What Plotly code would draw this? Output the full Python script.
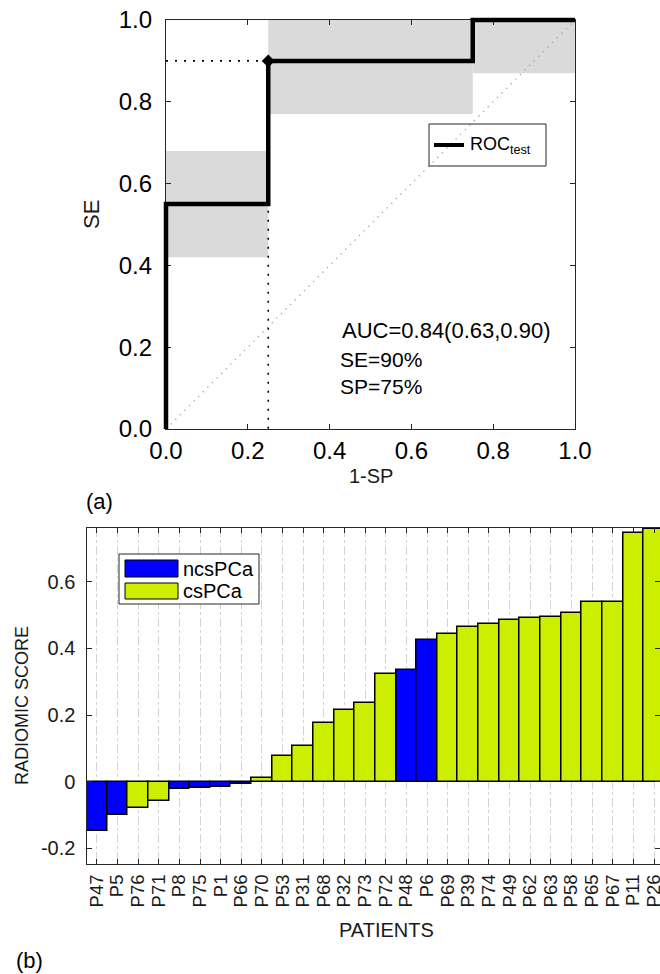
import plotly.graph_objects as go

W, H = 660, 974
FONT = "Liberation Sans, Arial, Helvetica, sans-serif"
AXIS_COLOR = "#262626"

# ---------------- ROC curve (test set) ----------------
roc_fpr = [0.0, 0.0, 0.25, 0.25, 0.75, 0.75, 1.0]
roc_tpr = [0.0, 0.55, 0.55, 0.90, 0.90, 1.0, 1.0]
# confidence band of each step: x-span and SE interval
ci_x0 = [0.0, 0.25, 0.75]
ci_x1 = [0.25, 0.75, 1.0]
ci_lo = [0.42, 0.77, 0.87]
ci_hi = [0.68, 1.0, 1.0]
# chosen operating point
op_fpr = 0.25
op_tpr = 0.90
roc_ticks = [0.0, 0.2, 0.4, 0.6, 0.8, 1.0]
auc_text = "AUC=0.84(0.63,0.90)"
se_text = "SE=90%"
sp_text = "SP=75%"

# ---------------- radiomic score per patient ----------------
patients = ["P47", "P5", "P76", "P71", "P8", "P75", "P1", "P66", "P70", "P53",
            "P31", "P68", "P32", "P73", "P72", "P48", "P6", "P69", "P39", "P74",
            "P49", "P62", "P63", "P58", "P65", "P67", "P11", "P26"]
scores = [-0.148, -0.100, -0.078, -0.057, -0.023, -0.018, -0.017, -0.008, 0.010, 0.077,
          0.108, 0.176, 0.215, 0.235, 0.323, 0.335, 0.425, 0.444, 0.465, 0.472,
          0.486, 0.492, 0.494, 0.507, 0.538, 0.540, 0.745, 0.757]
classes = ["ncsPCa", "ncsPCa", "csPCa", "csPCa", "ncsPCa", "ncsPCa", "ncsPCa", "ncsPCa",
           "csPCa", "csPCa", "csPCa", "csPCa", "csPCa", "csPCa", "csPCa", "ncsPCa",
           "ncsPCa", "csPCa", "csPCa", "csPCa", "csPCa", "csPCa", "csPCa", "csPCa",
           "csPCa", "csPCa", "csPCa", "csPCa"]
class_names = ["ncsPCa", "csPCa"]
class_colors = {"ncsPCa": "#0000FF", "csPCa": "#CCEE00"}
score_ticks = [-0.2, 0.0, 0.2, 0.4, 0.6]
score_ticktext = ["-0.2", "0", "0.2", "0.4", "0.6"]


def px(x, y):
    """pixel position (from top-left) -> paper coordinates"""
    return x / W, 1 - y / H


# panel frames in pixels
A_L, A_R, A_T, A_B = 166, 575, 20, 429
B_L, B_R, B_T, B_B = 86.5, 660, 528, 864
PAD = 5  # extra room so the thick ROC stroke is not cut at the frame

fig = go.Figure()

# confidence bands
for x0, x1, lo, hi in zip(ci_x0, ci_x1, ci_lo, ci_hi):
    fig.add_trace(go.Scatter(
        x=[x0, x1, x1, x0, x0], y=[lo, lo, hi, hi, lo],
        fill="toself", fillcolor="#DADADA", mode="none",
        xaxis="x", yaxis="y", showlegend=False, hoverinfo="skip"))

# chance diagonal
fig.add_trace(go.Scatter(
    x=[roc_ticks[0], roc_ticks[-1]], y=[roc_ticks[0], roc_ticks[-1]], mode="lines",
    line=dict(color="#A8A8A8", width=1.2, dash="1.5px,5px"),
    xaxis="x", yaxis="y", showlegend=False, hoverinfo="skip"))

# operating point guides
fig.add_trace(go.Scatter(
    x=[0.0, op_fpr, op_fpr], y=[op_tpr, op_tpr, 0.0], mode="lines",
    line=dict(color="black", width=1.6, dash="2px,7px"),
    xaxis="x", yaxis="y", showlegend=False, hoverinfo="skip"))

# ROC curve on an overlay axis pair with identical scale but a wider clip box
fig.add_trace(go.Scatter(
    x=roc_fpr, y=roc_tpr, mode="lines",
    line=dict(color="black", width=4.5),
    xaxis="x3", yaxis="y3", showlegend=False))

fig.add_trace(go.Scatter(
    x=[op_fpr], y=[op_tpr], mode="markers",
    marker=dict(symbol="diamond", color="black", size=10),
    xaxis="x3", yaxis="y3", showlegend=False))

# radiomic score bars
fig.add_trace(go.Bar(
    x=patients, y=scores,
    marker=dict(color=[class_colors[c] for c in classes],
                line=dict(color="black", width=1.5)),
    width=1.0, xaxis="x2", yaxis="y2", showlegend=False))

tick_font_a = dict(family=FONT, size=24, color="black")
tick_font_b = dict(family=FONT, size=20, color="#1a1a1a")

span_a = A_R - A_L
pad_u = PAD / span_a

common = dict(automargin=False, zeroline=False, showgrid=False)

fig.update_layout(
    width=W, height=H,
    margin=dict(l=0, r=0, t=0, b=0, pad=0),
    paper_bgcolor="white", plot_bgcolor="rgba(0,0,0,0)",
    font=dict(family=FONT, color="black"),
    bargap=0,
    xaxis=dict(domain=[A_L / W, A_R / W], anchor="y", range=[0, 1],
               tickvals=roc_ticks, tickformat=".1f", ticks="inside", ticklen=5,
               tickcolor=AXIS_COLOR, showline=True, linecolor=AXIS_COLOR,
               linewidth=1.2, mirror="ticks",
               tickfont=tick_font_a, ticklabelstandoff=0, **common),
    yaxis=dict(domain=[1 - A_B / H, 1 - A_T / H], anchor="x", range=[0, 1],
               tickvals=roc_ticks, tickformat=".1f", ticks="inside", ticklen=5,
               tickcolor=AXIS_COLOR, showline=True, linecolor=AXIS_COLOR,
               linewidth=1.2, mirror="ticks",
               tickfont=tick_font_a, ticklabelstandoff=8, **common),
    xaxis3=dict(domain=[(A_L - PAD) / W, (A_R + PAD) / W], anchor="y3",
                range=[-pad_u, 1 + pad_u], visible=False, **common),
    yaxis3=dict(domain=[1 - (A_B + PAD) / H, 1 - (A_T - PAD) / H], anchor="x3",
                range=[-pad_u, 1 + pad_u], visible=False, **common),
    xaxis2=dict(domain=[B_L / W, B_R / W], anchor="y2", type="category",
                categoryorder="array", categoryarray=patients,
                tickmode="array", tickvals=patients, ticktext=patients,
                range=[-0.5, 27.29], tickangle=-90, ticks="inside", ticklen=5,
                tickcolor=AXIS_COLOR, showline=True, linecolor=AXIS_COLOR,
                linewidth=1.2, mirror="ticks",
                tickfont=dict(family=FONT, size=18.5, color="#1a1a1a"),
                ticklabelstandoff=2,
                automargin=False, zeroline=False, showgrid=True,
                gridcolor="#D4D4D4", griddash="dashdot", gridwidth=1),
    yaxis2=dict(domain=[1 - B_B / H, 1 - B_T / H], anchor="x2",
                range=[-0.247, 0.761],
                tickvals=score_ticks, ticktext=score_ticktext, ticks="inside",
                ticklen=5, tickcolor=AXIS_COLOR, showline=True,
                linecolor=AXIS_COLOR, linewidth=1.2, mirror="ticks",
                tickfont=tick_font_b, ticklabelstandoff=6, **common),
)

shapes = []
annotations = []


def text(x, y, s, size, xanchor="center", angle=0, color="black"):
    ax, ay = px(x, y)
    annotations.append(dict(x=ax, y=ay, xref="paper", yref="paper", text=s,
                            showarrow=False, xanchor=xanchor, yanchor="middle",
                            textangle=angle,
                            font=dict(family=FONT, size=size, color=color)))


def rect(x0, y0, x1, y1, fill=None, line="black", lw=1):
    a0, b0 = px(x0, y0)
    a1, b1 = px(x1, y1)
    shapes.append(dict(type="rect", xref="paper", yref="paper",
                       x0=a0, y0=b1, x1=a1, y1=b0,
                       fillcolor=fill if fill else "rgba(0,0,0,0)",
                       line=dict(color=line, width=lw), layer="above"))


# ROC panel labels
text(92, 215, "SE", 22, angle=-90, color="#1a1a1a")
text(370.5, 476, "1-SP", 20, color="#1a1a1a")
text(340, 330, auc_text, 22, xanchor="left")
text(338, 359, se_text, 21, xanchor="left")
text(338, 386, sp_text, 21, xanchor="left")
text(99, 501, "(a)", 22)

# ROC legend
rect(429, 124, 546, 166, fill=None, line=AXIS_COLOR, lw=1)
a0, b0 = px(434, 145)
a1, _ = px(464, 145)
shapes.append(dict(type="line", xref="paper", yref="paper", x0=a0, y0=b0,
                   x1=a1, y1=b0, line=dict(color="black", width=4), layer="above"))
text(468, 145, "ROC<sub>test</sub>", 18, xanchor="left")

# score panel labels
text(22, 706, "RADIOMIC SCORE", 18, angle=-90, color="#1a1a1a")
text(387, 930, "PATIENTS", 20, color="#1a1a1a")
text(29, 960, "(b)", 22)

# score legend
rect(119, 554, 259, 604, fill="white", line=AXIS_COLOR, lw=1)
rect(125, 560, 178, 577, fill=class_colors[class_names[0]], line="black", lw=1)
rect(125, 583, 178, 599, fill=class_colors[class_names[1]], line="black", lw=1)
text(181, 568.5, class_names[0], 20, xanchor="left")
text(181, 591, class_names[1], 20, xanchor="left")

fig.update_layout(shapes=shapes, annotations=annotations)

fig.write_html("out.html")
